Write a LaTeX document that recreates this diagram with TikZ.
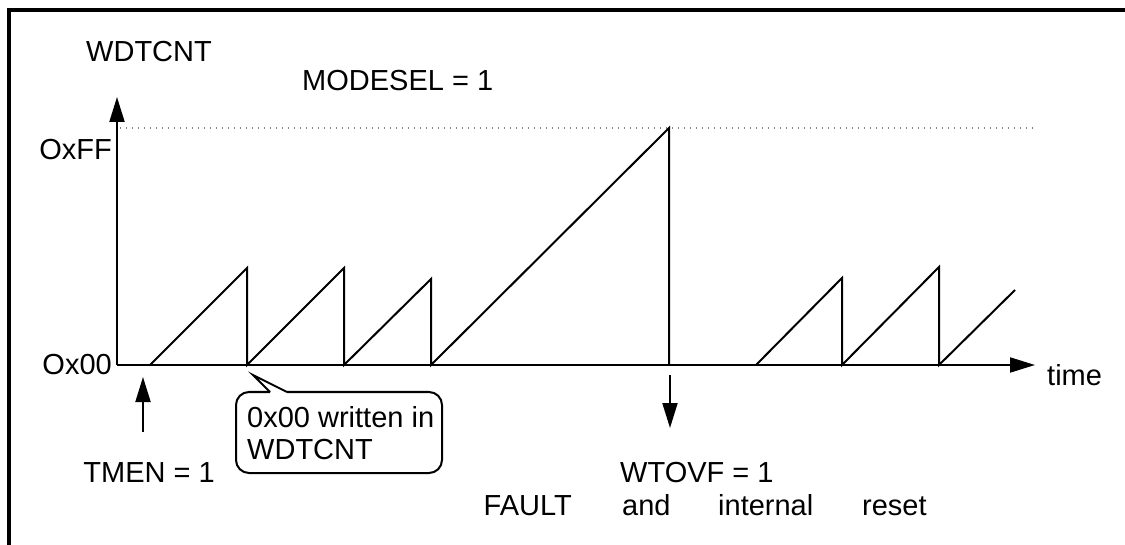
\documentclass[tikz,border=0pt]{standalone}
\usepackage{fontspec}
\setmainfont{Liberation Sans}
\usetikzlibrary{arrows.meta}
\begin{document}
\begin{tikzpicture}[x=1pt,y=-1pt,
  lbl/.style={inner sep=0pt, anchor=base west, font=\fontsize{29}{34}\selectfont},
  ln/.style={line width=2pt},
  arr/.style={ln, -{Triangle[length=25pt,width=15pt]}},
  dots/.style={gray, line width=1.3pt, dash pattern=on 1.3pt off 4.7pt}]
\useasboundingbox (0,0) rectangle (1125,545);
\fill[white] (0,0) rectangle (1125,545);
% frame
\draw[line width=4pt] (9,560) -- (9,10) -- (1140,10);
% axes
\coordinate (O) at (117,365);
\coordinate (ytop) at (117,97);
\coordinate (xend) at (1035,365);
\draw[arr] (O) -- (ytop);
\draw[arr] (O) -- (xend);
% dotted max line
\coordinate (d1) at (120,128);
\coordinate (d2) at (1033,128);
\draw[dots] (d1) -- (d2);
% sawtooth
\draw[ln, line join=miter] (150,365) -- (247,268) -- (247,365) -- (344,268) -- (344,365)
  -- (431,279) -- (431,365) -- (669,128) -- (669,365);
\draw[ln, line join=miter] (756,365) -- (842,278) -- (842,365) -- (939,267) -- (939,365)
  -- (1015,290);
% event arrows
\coordinate (ua1) at (143,432);
\coordinate (ua2) at (143,377);
\draw[arr] (ua1) -- (ua2);
\coordinate (da1) at (670,375);
\coordinate (da2) at (670,428);
\draw[arr] (da1) -- (da2);
% callout
\draw[ln, rounded corners=13pt] (270,392) -- (236,392) -- (236,473) -- (442,473) -- (442,392) -- (287,392);
\draw[ln, line join=miter] (270,392) -- (253,375) -- (287,392);
\node[lbl] (c1) at (247,427) {0x00 written in};
\node[lbl] (c2) at (247,459) {WDTCNT};
% labels
\node[lbl] (wd) at (86,62) {WDTCNT};
\node[lbl] (ms) at (302,91) {MODESEL = 1};
\node[lbl, anchor=base east] (ff) at (112,160) {OxFF};
\node[lbl, anchor=base east] (zz) at (112,375) {Ox00};
\node[lbl] (tm) at (1047,385) {time};
\node[lbl, anchor=base east] (tmen) at (215,482) {TMEN = 1};
\node[lbl] (wt) at (620,482) {WTOVF = 1};
\node[lbl, anchor=base east] (fa) at (572,515) {FAULT};
\node[lbl] (and) at (622,515) {and};
\node[lbl] (int) at (718,515) {internal};
\node[lbl] (rs) at (862,515) {reset};
\end{tikzpicture}
\end{document}
